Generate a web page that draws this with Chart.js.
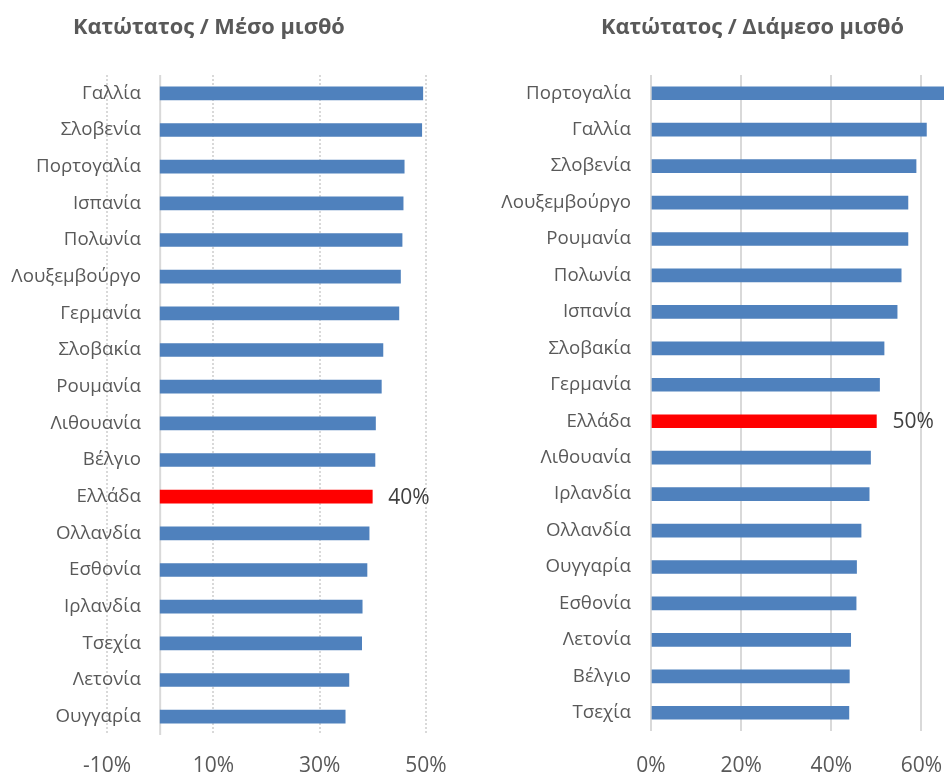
<!DOCTYPE html>
<html><head><meta charset="utf-8">
<script src="https://cdn.jsdelivr.net/npm/chart.js@4"></script>
<style>
html,body{margin:0;padding:0;background:#fff;}
#wrap{position:relative;width:944px;height:774px;overflow:hidden;}
.cv{position:absolute;top:0;width:472px;height:774px;}
.title{position:absolute;top:11px;font:bold 21.8px "Open Sans",sans-serif;color:#595959;white-space:nowrap;}
</style></head><body>
<div id="wrap">
<div class="cv" style="left:0"><canvas id="c1" width="472" height="774"></canvas></div>
<div class="cv" style="left:472px"><canvas id="c2" width="472" height="774"></canvas></div>
<div class="title" style="left:73px">Κατώτατος / Μέσο μισθό</div>
<div class="title" style="left:601px">Κατώτατος / Διάμεσο μισθό</div>
</div>
<script>
// ---- data ----
const meanCountries = ["Γαλλία","Σλοβενία","Πορτογαλία","Ισπανία","Πολωνία","Λουξεμβούργο","Γερμανία","Σλοβακία","Ρουμανία","Λιθουανία","Βέλγιο","Ελλάδα","Ολλανδία","Εσθονία","Ιρλανδία","Τσεχία","Λετονία","Ουγγαρία"];
const meanValues = [49.4,49.2,45.9,45.7,45.5,45.2,44.9,41.9,41.6,40.5,40.4,39.9,39.3,38.9,38.0,37.9,35.5,34.8];
const medianCountries = ["Πορτογαλία","Γαλλία","Σλοβενία","Λουξεμβούργο","Ρουμανία","Πολωνία","Ισπανία","Σλοβακία","Γερμανία","Ελλάδα","Λιθουανία","Ιρλανδία","Ολλανδία","Ουγγαρία","Εσθονία","Λετονία","Βέλγιο","Τσεχία"];
const medianValues = [65.0,61.1,58.8,57.0,57.0,55.5,54.6,51.7,50.7,50.0,48.7,48.4,46.6,45.6,45.5,44.3,44.0,43.9];
const meanTicks = [-10,10,30,50];
const medianTicks = [0,20,40,60];
const highlight = "Ελλάδα";

Chart.defaults.font.family = '"Open Sans", sans-serif';
Chart.defaults.color = '#595959';

const hlLabel = {
  id: 'hlLabel',
  afterDatasetsDraw(chart) {
    const idx = chart.data.labels.indexOf(highlight);
    if (idx < 0) return;
    const bar = chart.getDatasetMeta(0).data[idx];
    const v = chart.data.datasets[0].data[idx];
    const ctx = chart.ctx;
    ctx.save();
    ctx.font = '21px "Open Sans", sans-serif';
    ctx.fillStyle = '#404040';
    ctx.textAlign = 'left';
    ctx.textBaseline = 'middle';
    ctx.fillText(Math.round(v) + '%', bar.x + 16, bar.y + 1);
    ctx.restore();
  }
};
const zeroLine = {
  id: 'zeroLine',
  beforeDatasetsDraw(chart) {
    const x = chart.scales.x.getPixelForValue(0);
    const ctx = chart.ctx;
    ctx.save();
    ctx.strokeStyle = '#D9D9D9';
    ctx.lineWidth = 2;
    ctx.beginPath();
    ctx.moveTo(x, chart.chartArea.top);
    ctx.lineTo(x, chart.chartArea.bottom);
    ctx.stroke();
    ctx.restore();
  }
};

function makeChart(id, labels, values, ticks, opt) {
  return new Chart(document.getElementById(id), {
    type: 'bar',
    data: {
      labels: labels,
      datasets: [{
        data: values,
        backgroundColor: labels.map(l => l === highlight ? '#FF0000' : '#4F81BD'),
        barThickness: 13
      }]
    },
    options: {
      indexAxis: 'y',
      responsive: false,
      animation: false,
      layout: { padding: { top: 75, right: opt.right, left: 0, bottom: 0 } },
      plugins: { legend: { display: false }, tooltip: { enabled: false } },
      scales: {
        x: {
          min: opt.min, max: opt.max,
          afterBuildTicks: s => { s.ticks = ticks.map(v => ({ value: v })); },
          afterFit: s => { s.height = opt.xh; s.paddingLeft = 0; s.paddingRight = 0; },
          grid: { color: '#D9D9D9', lineWidth: opt.gw, drawTicks: false },
          border: { display: false, dash: opt.dash },
          ticks: { padding: opt.tp, font: { size: 21 }, color: '#595959', callback: v => v + '%' }
        },
        y: {
          afterFit: s => { s.width = opt.yw; s._computeLabelArea = () => undefined; },
          grid: { display: false, drawTicks: false },
          border: { display: false },
          ticks: { padding: opt.yp, font: { size: 18.7 }, color: '#595959' }
        }
      }
    },
    plugins: opt.zero ? [zeroLine, hlLabel] : [hlLabel]
  });
}

makeChart('c1', meanCountries, meanValues, meanTicks,
  { min: -10, max: 50, right: 46, xh: 39, tp: 18, yw: 107, yp: -34, gw: 2, dash: [2, 2], zero: true });
makeChart('c2', medianCountries, medianValues, medianTicks,
  { min: 0, max: 65, right: 0, xh: 43, tp: 22, yw: 179, yp: 20, gw: 2, dash: [], zero: false });
</script>
</body></html>
